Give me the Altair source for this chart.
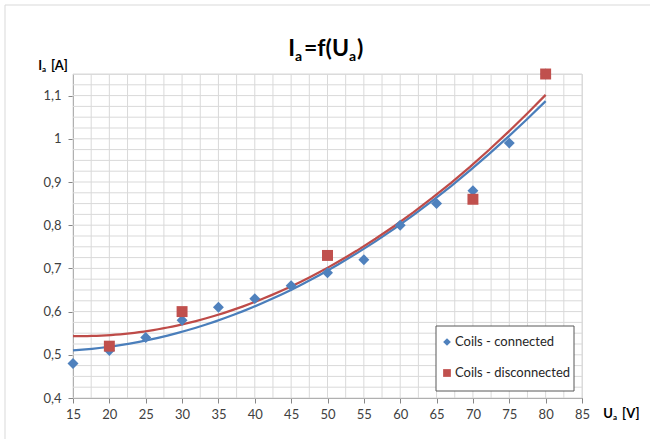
import altair as alt
import pandas as pd
import numpy as np

# ---- data ----
series_names = ["Coils - connected", "Coils - disconnected"]
U_connected = [15, 20, 25, 30, 35, 40, 45, 50, 55, 60, 65, 70, 75, 80]
I_connected = [0.48, 0.51, 0.54, 0.58, 0.61, 0.63, 0.66, 0.69, 0.72, 0.80, 0.85, 0.88, 0.99, 1.15]
U_disconnected = [20, 30, 50, 70, 80]
I_disconnected = [0.52, 0.60, 0.73, 0.86, 1.15]
x_tick_values = [15, 20, 25, 30, 35, 40, 45, 50, 55, 60, 65, 70, 75, 80, 85]
y_tick_values = [0.4, 0.5, 0.6, 0.7, 0.8, 0.9, 1.0, 1.1]

colors = ["#4F81BD", "#C0504D"]
line_colors = ["#4A7EBB", "#BE4B48"]
shapes = ["diamond", "square"]

FONT = "Lato"
W, H = 509, 324
X_DOM = [15, 85]
Y_DOM = [0.4, 1.15]

df = pd.DataFrame(
    {"U": U_connected + U_disconnected,
     "I": I_connected + I_disconnected,
     "series": [series_names[0]] * len(U_connected) + [series_names[1]] * len(U_disconnected)}
)

xs = alt.Scale(domain=X_DOM, nice=False, zero=False)
ys = alt.Scale(domain=Y_DOM, nice=False, zero=False)
cscale = alt.Scale(domain=series_names, range=colors)
lscale = alt.Scale(domain=series_names, range=line_colors)
sscale = alt.Scale(domain=series_names, range=shapes)

x_axis = alt.Axis(values=x_tick_values, grid=False, domainColor="#868686",
                  tickColor="#868686", tickSize=5, labelPadding=5,
                  labelFont=FONT, labelFontSize=13, labelColor="#404040",
                  labelFlush=False, title=None)
y_axis = alt.Axis(values=y_tick_values, grid=False, domainColor="#868686",
                  tickColor="#868686", tickSize=5, labelPadding=7,
                  labelFont=FONT, labelFontSize=13, labelColor="#404040",
                  labelFlush=False, title=None,
                  labelExpr="replace(format(datum.value, '.1~f'), '.', ',')")


def X(f):
    return alt.X(f, type="quantitative", scale=xs, axis=x_axis, title=None)


def Y(f):
    return alt.Y(f, type="quantitative", scale=ys, axis=y_axis, title=None)


# grid
grid_x = pd.DataFrame({"gx": np.arange(15, 85.001, 2.5)})
grid_y = pd.DataFrame({"gy": np.round(np.arange(0.4, 1.1501, 0.025), 4)})
gx = alt.Chart(grid_x).mark_rule(color="#D9D9D9", strokeWidth=1).encode(x=X("gx"))
gy = alt.Chart(grid_y).mark_rule(color="#D9D9D9", strokeWidth=1).encode(y=Y("gy"))

# trend lines (2nd order polynomial, like Excel)
trend = alt.Chart(df).transform_regression(
    "U", "I", method="poly", order=2, groupby=["series"], extent=[15, 80]
).mark_line(strokeWidth=2.25).encode(
    x=X("U"), y=Y("I"),
    color=alt.Color("series:N", scale=lscale, legend=None),
)

points = alt.Chart(df).mark_point(filled=True, opacity=1, size=120).encode(
    x=X("U"), y=Y("I"),
    fill=alt.Fill("series:N", scale=cscale, legend=None),
    shape=alt.Shape("series:N", scale=sscale, legend=None),
)

one = pd.DataFrame({"a": [0]})

# legend box (drawn by hand, Excel style)
leg_layers = [alt.Chart(one).mark_rect(fill="white", stroke="#595959", strokeWidth=1).encode(
    x=alt.value(363), x2=alt.value(501), y=alt.value(252), y2=alt.value(317))]
for i, name in enumerate(series_names):
    yy = 268 + 31 * i
    leg_layers.append(alt.Chart(one).mark_point(
        filled=True, opacity=1, size=60, shape=shapes[i], fill=colors[i]).encode(
        x=alt.value(374), y=alt.value(yy)))
    leg_layers.append(alt.Chart(pd.DataFrame({"t": [name]})).mark_text(
        align="left", baseline="middle", font=FONT, fontSize=13, color="#262626").encode(
        x=alt.value(382), y=alt.value(yy), text="t:N"))


def txt(s, x, y, size, bold=True, align="left", baseline="alphabetic"):
    return alt.Chart(pd.DataFrame({"t": [s]})).mark_text(
        align=align, baseline=baseline, font=FONT, fontSize=size,
        fontWeight="bold" if bold else "normal", color="#000000").encode(
        x=alt.value(x), y=alt.value(y), text="t:N")


# title Ia=f(Ua)
tb = -18  # baseline relative to plot top
title_parts = [
    txt("I", 222, tb, 23, align="right"),
    txt("a", 222, tb + 5, 14),
    txt("=f(U", 276, tb, 23, align="right"),
    txt("a", 276, tb + 5, 14),
    txt(")", 284, tb, 23),
]
# axis titles
ylab = [
    txt("I", -31, -4, 13, align="right"),
    txt("a", -31, -2, 8),
    txt("[A]", -22, -4, 13),
]
xlab = [
    txt("U", 540, 344, 13, align="right"),
    txt("a", 540, 346, 8),
    txt("[V]", 549, 344, 13),
]

# outer light border
border = [
    alt.Chart(one).mark_rule(color="#D9D9D9").encode(
        x=alt.value(-68), y=alt.value(-69), y2=alt.value(400)),
    alt.Chart(one).mark_rule(color="#D9D9D9").encode(
        x=alt.value(-68), x2=alt.value(600), y=alt.value(-69)),
]

chart = alt.layer(
    gx, gy, trend, points, *leg_layers,
    *title_parts, *ylab, *xlab, *border
).properties(
    width=W, height=H,
    autosize=alt.AutoSizeParams(type="none"),
    padding={"left": 73, "top": 74, "right": 68, "bottom": 41},
).configure_view(stroke=None).configure(background="white")

chart.save("out.html", embed_options={"renderer": "svg", "actions": False})
